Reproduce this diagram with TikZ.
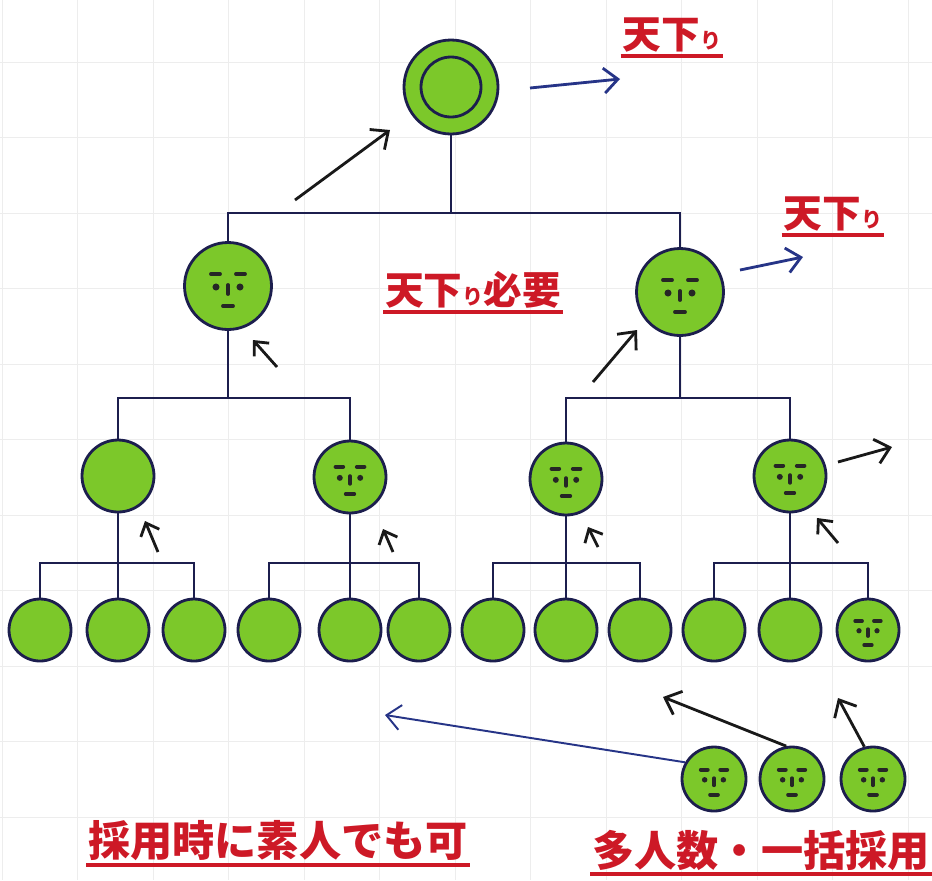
\documentclass[tikz,border=0pt]{standalone}
\usepackage{fontspec}
\newfontfamily\jp{Noto Sans CJK JP}
\usepackage{xcolor}
\usetikzlibrary{arrows.meta}
\definecolor{leafgreen}{RGB}{124,200,42}
\definecolor{inknavy}{RGB}{28,30,78}
\definecolor{penred}{RGB}{205,25,38}
\definecolor{penblue}{RGB}{38,52,135}
\newcommand{\smallri}{{\fontsize{12}{12}\selectfont り}}

\tikzset{
    face/.pic={
        \draw[line width=2.2pt, line cap=round, black!85]
            (-17,-12) -- (-8,-12) (8,-12) -- (17,-12)
            (0,-1) -- (0,8) (-5,20) -- (5,20);
        \fill[black!85] (-12,1) circle (2pt) (12,1) circle (2pt);
    }
}

\begin{document}
\begin{tikzpicture}[
    x=0.02cm, y=-0.02cm,
    person/.style={circle, draw=inknavy, line width=1.6pt, fill=leafgreen, inner sep=0pt},
    exec/.style={person, minimum size=1.88cm},
    mgr/.style={person, minimum size=1.74cm},
    chief/.style={person, minimum size=1.44cm},
    staff/.style={person, minimum size=1.24cm},
    hire/.style={person, minimum size=1.28cm},
    tree/.style={draw=inknavy, line width=1.6pt},
    promo/.style={-{Straight Barb[length=2.8mm,width=5mm]}, line width=1.6pt, black!90},
    bluepromo/.style={promo, draw=penblue},
    nudge/.style={-{Straight Barb[length=2.2mm,width=4mm]}, line width=1.6pt, black!90},
    memo/.style={font=\jp\bfseries\fontsize{22}{22}\selectfont, text=penred, inner sep=1pt},
    bigmemo/.style={memo, font=\jp\bfseries\fontsize{24}{24}\selectfont},
    uline/.style={draw=penred, line width=2.2pt},
    gridline/.style={draw=gray!14, line width=0.5pt}
]
    \useasboundingbox (0,0) rectangle (932,880);
    \fill[white] (0,0) rectangle (932,880);
    % squared paper
    \foreach \gx in {2,77.5,...,932} \draw[gridline] (\gx,0) -- (\gx,880);
    \foreach \gy in {62,137.5,...,880} \draw[gridline] (0,\gy) -- (932,\gy);

    % people
    \node[exec] (exec) at (451,87) {};
    \node[circle, draw=inknavy, line width=1.6pt, minimum size=1.2cm] (execcore) at (exec) {};
    \node[mgr] (mgrL) at (228,286) {};
    \node[mgr] (mgrR) at (680,292) {};
    \node[chief] (chief1) at (118,476) {};
    \node[chief] (chief2) at (350,477) {};
    \node[chief] (chief3) at (566,479) {};
    \node[chief] (chief4) at (790,476) {};
    \foreach \cx [count=\i] in {40,118,194,269,350,419,493,566,640,714,790,868}
        \node[staff] (staff\i) at (\cx,630) {};
    \foreach \cx [count=\i] in {714,792,873}
        \node[hire] (hire\i) at (\cx,779) {};

    % faces
    \pic at (mgrL) {face};
    \pic at (mgrR) {face};
    \foreach \n in {chief2,chief3,chief4}
        \pic[scale=0.85] at (\n) {face};
    \pic[scale=0.75] at (staff12) {face};
    \foreach \n in {hire1,hire2,hire3}
        \pic[scale=0.78] at (\n) {face};

    % org lines
    \coordinate (bar1) at (0,213);
    \coordinate (bar2) at (0,398);
    \coordinate (bar3) at (0,563);
    \draw[tree] (exec.south) -- (exec |- bar1);
    \draw[tree] (mgrL.north) |- (exec |- bar1) -| (mgrR.north);
    \foreach \p/\l/\r in {mgrL/chief1/chief2, mgrR/chief3/chief4} {
        \draw[tree] (\p.south) -- (\p |- bar2);
        \draw[tree] (\l.north) |- (\p |- bar2) -| (\r.north);
    }
    \foreach \p/\a/\b/\c in {chief1/1/2/3, chief2/4/5/6, chief3/7/8/9, chief4/10/11/12} {
        \draw[tree] (\p.south) -- (staff\b.north);
        \draw[tree] (staff\a.north) |- (\p |- bar3) -| (staff\c.north);
    }

    % moving up / moving out
    \foreach \n/\sx/\sy/\ex/\ey in {up0/295/200/390/130, upR/593/382/637/330, outC/838/462/892/447} {
        \coordinate (\n-from) at (\sx,\sy);
        \coordinate (\n-to) at (\ex,\ey);
        \draw[promo] (\n-from) -- (\n-to);
    }
    \foreach \n/\sx/\sy/\ex/\ey in {outE/530/88/620/79, outR/740/270/803/257} {
        \coordinate (\n-from) at (\sx,\sy);
        \coordinate (\n-to) at (\ex,\ey);
        \draw[bluepromo] (\n-from) -- (\n-to);
    }
    \foreach \n/\sx/\sy/\ex/\ey in {upL/277/367/253/340, up1/158/552/145/521, up2/393/552/383/529,
                                     up3/598/547/588/527, up4/838/543/817/518} {
        \coordinate (\n-from) at (\sx,\sy);
        \coordinate (\n-to) at (\ex,\ey);
        \draw[nudge] (\n-from) -- (\n-to);
    }
    \coordinate (join1) at (385,715);
    \coordinate (join2) at (663,697);
    \coordinate (join3) at (838,698);
    \draw[bluepromo, line width=1.1pt] (hire1.150) -- (join1);
    \draw[promo] (hire2.100) -- (join2);
    \draw[promo] (hire3.105) -- (join3);

    % notes
    \node[memo] (amaTop) at (672,35) {天下\smallri};
    \node[memo] (amaMid) at (833,214) {天下\smallri};
    \node[memo] (amaNeed) at (473,290) {天下\smallri 必要};
    \node[bigmemo] (amateurOK) at (278,841) {採用時に素人でも可};
    \node[bigmemo] (bulkHire) at (761,850) {多人数・一括採用};
    \foreach \t in {amaTop, amaMid, amaNeed, amateurOK, bulkHire}
        \draw[uline] ([yshift=-1pt]\t.south west) -- ([yshift=-1pt]\t.south east);
\end{tikzpicture}
\end{document}
